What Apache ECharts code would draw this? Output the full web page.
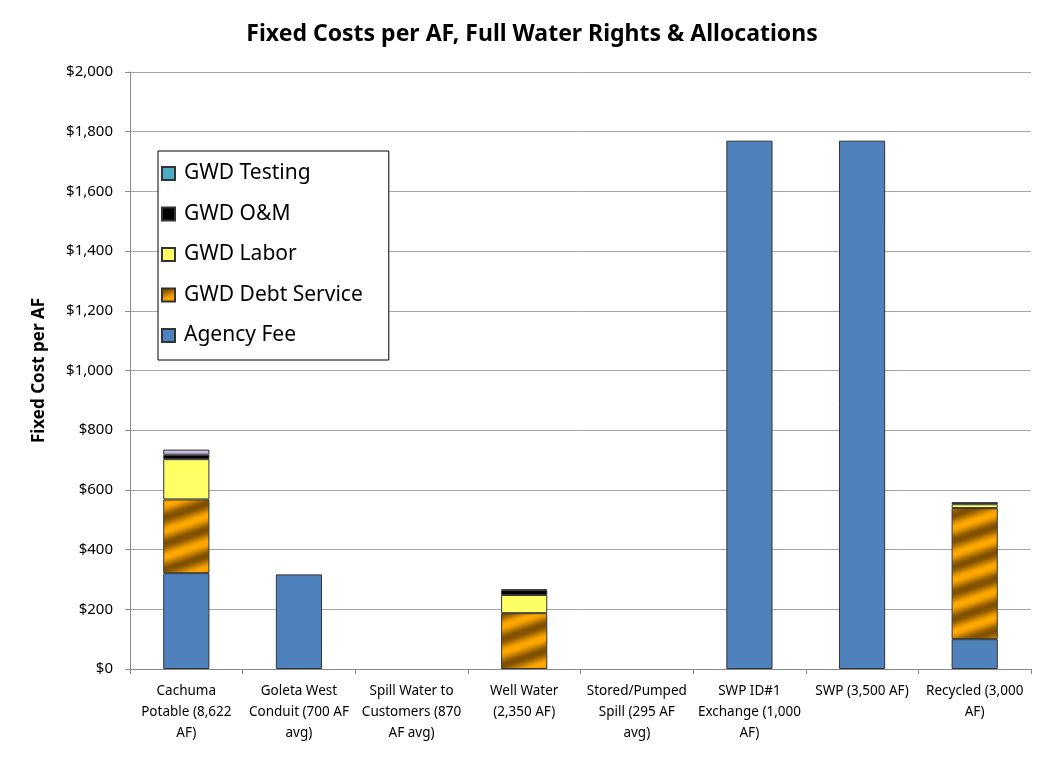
<!DOCTYPE html>
<html>
<head>
<meta charset="utf-8">
<script src="https://cdn.jsdelivr.net/npm/echarts@6/dist/echarts.min.js"></script>
<style>
  html, body { margin: 0; padding: 0; background: #fff; }
  #chart { width: 1037px; height: 759px; }
</style>
</head>
<body>
<div id="chart"></div>
<script>
// categories, line breaks as they wrap in the original
var categories = [
  'Cachuma\nPotable (8,622\nAF)',
  'Goleta West\nConduit (700 AF\navg)',
  'Spill Water to\nCustomers (870\nAF avg)',
  'Well Water\n(2,350 AF)',
  'Stored/Pumped\nSpill (295 AF\navg)',
  'SWP ID#1\nExchange (1,000\nAF)',
  'SWP (3,500 AF)',
  'Recycled (3,000\nAF)'
];
var agencyFee   = [321, 317, 0, 0,   0, 1770, 1770, 100];
var debtService = [247, 0,   0, 187, 0, 0,    0,    439];
var labor       = [135, 0,   0, 61,  0, 0,    0,    13];
var oandm       = [15,  0,   0, 16,  0, 0,    0,    7];
var testing     = [17,  0,   0, 3,   0, 0,    0,    0];
var yTicks = [0, 200, 400, 600, 800, 1000, 1200, 1400, 1600, 1800, 2000];

// striped orange/brown fill for debt service
function stripes() {
  var W = 78, H = 26;
  var c = document.createElement('canvas');
  c.width = W; c.height = H;
  var ctx = c.getContext('2d');
  var img = ctx.createImageData(W, H);
  var a = [255, 168, 0], b = [128, 80, 0];
  for (var y = 0; y < H; y++) {
    for (var x = 0; x < W; x++) {
      var t = 0.5 + 0.5 * Math.cos(2 * Math.PI * (x / W + y / H));
      var i = (y * W + x) * 4;
      img.data[i]   = a[0] * (1 - t) + b[0] * t;
      img.data[i+1] = a[1] * (1 - t) + b[1] * t;
      img.data[i+2] = a[2] * (1 - t) + b[2] * t;
      img.data[i+3] = 255;
    }
  }
  ctx.putImageData(img, 0, 0);
  return c;
}

var chart = echarts.init(document.getElementById('chart'));
var font = '"Noto Sans", sans-serif';
var edge = { borderColor: '#333', borderWidth: 1 };

// zero means "no segment" -> skip it so no empty outline is drawn
function clean(arr) {
  return arr.map(function (v) { return v === 0 ? '-' : v; });
}

function bar(name, data, color) {
  return {
    name: name, type: 'bar', stack: 'cost', data: data, barWidth: '41%',
    itemStyle: Object.assign({ color: color }, edge)
  };
}

var testingData = clean(testing);
// top slice of the Cachuma bar is lavender in the source
testingData[0] = { value: testing[0], itemStyle: { color: '#c4bde0' } };

var option = {
  animation: false,
  textStyle: { fontFamily: font },
  title: {
    text: 'Fixed Costs per AF, Full Water Rights & Allocations',
    left: 527, top: 18, textAlign: 'center',
    textStyle: { fontSize: 23, fontWeight: 'bold', color: '#000', fontFamily: font }
  },
  grid: { left: 130, right: 6, top: 72, bottom: 90 },
  legend: {
    orient: 'vertical', left: 158, top: 151,
    padding: [12, 26, 14, 3],
    borderColor: '#000', borderWidth: 1, backgroundColor: '#fff',
    icon: 'rect', itemWidth: 13, itemHeight: 13, itemGap: 19.5,
    textStyle: { fontSize: 21, color: '#000', fontFamily: font, padding: [0, 0, 0, 4] },
    data: ['GWD Testing', 'GWD O&M', 'GWD Labor', 'GWD Debt Service', 'Agency Fee']
  },
  xAxis: {
    type: 'category', data: categories,
    axisLine: { lineStyle: { color: '#888' } },
    axisTick: { show: true, alignWithLabel: false, length: 5, lineStyle: { color: '#888' } },
    axisLabel: { interval: 0, fontSize: 13.5, color: '#000', lineHeight: 21, margin: 12 }
  },
  yAxis: {
    type: 'value', min: 0, max: 2000, interval: 200,
    name: 'Fixed Cost per AF', nameLocation: 'middle', nameGap: 82,
    nameTextStyle: { fontSize: 17, fontWeight: 'bold', color: '#000' },
    axisLine: { show: true, lineStyle: { color: '#888' } },
    axisTick: { show: true, length: 5, lineStyle: { color: '#888' } },
    splitLine: { lineStyle: { color: '#a6a6a6' } },
    axisLabel: {
      fontSize: 15, color: '#000', margin: 17,
      formatter: function (v) { return yTicks.indexOf(v) < 0 ? '' : '$' + v.toLocaleString('en-US'); }
    }
  },
  series: [
    bar('Agency Fee', clean(agencyFee), '#4f81bd'),
    bar('GWD Debt Service', clean(debtService), { image: stripes(), repeat: 'repeat' }),
    bar('GWD Labor', clean(labor), '#ffff66'),
    bar('GWD O&M', clean(oandm), '#000000'),
    bar('GWD Testing', testingData, '#4bacc6')
  ]
};

chart.setOption(option);
</script>
</body>
</html>
